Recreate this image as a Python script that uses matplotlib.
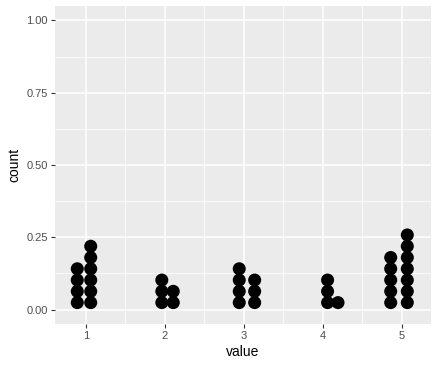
import numpy as np
import matplotlib.pyplot as plt

# dot stacks: bin centre on x and number of dots in the stack
bin_centers = [0.89, 1.06, 1.96, 2.105, 2.94, 3.135, 4.058, 4.19, 4.857, 5.067]
bin_counts = [4, 6, 3, 2, 4, 3, 3, 1, 5, 7]

x_ticks = [1, 2, 3, 4, 5]
y_ticks = [0.00, 0.25, 0.50, 0.75, 1.00]
y_ticklabels = ['0.00', '0.25', '0.50', '0.75', '1.00']

plt.rcParams['font.family'] = ['Liberation Sans', 'DejaVu Sans']

fig = plt.figure(figsize=(4.38, 3.66), dpi=100)
ax = fig.add_axes([55 / 438, 42 / 366, 376 / 438, 318 / 366])
ax.set_facecolor('#EBEBEB')

# stacking in data units (first dot centre and step between dots)
base = 0.024
step = 0.039
xs, ys = [], []
for cx, n in zip(bin_centers, bin_counts):
    for i in range(n):
        xs.append(cx)
        ys.append(base + i * step)
ax.scatter(xs, ys, s=88, color='black', edgecolors='none', zorder=3)

ax.set_xlim(0.608, 5.367)
ax.set_ylim(-0.05, 1.05)

ax.set_xticks(x_ticks)
ax.set_xticklabels([str(t) for t in x_ticks])
ax.set_yticks(y_ticks)
ax.set_yticklabels(y_ticklabels)
ax.set_xticks([1.5, 2.5, 3.5, 4.5], minor=True)
ax.set_yticks([0.125, 0.375, 0.625, 0.875], minor=True)

ax.grid(which='major', color='white', linewidth=1.1)
ax.grid(which='minor', color='white', linewidth=0.55)
ax.set_axisbelow(True)

for s in ax.spines.values():
    s.set_visible(False)

ax.tick_params(which='major', length=3, width=0.8, color='#333333',
               labelcolor='#4D4D4D', labelsize=8, pad=2)
ax.tick_params(which='minor', length=0)

ax.set_xlabel('value', fontsize=10, color='black', labelpad=3)
ax.set_ylabel('count', fontsize=10, color='black', labelpad=4)

fig.savefig('out.png', dpi=100)
